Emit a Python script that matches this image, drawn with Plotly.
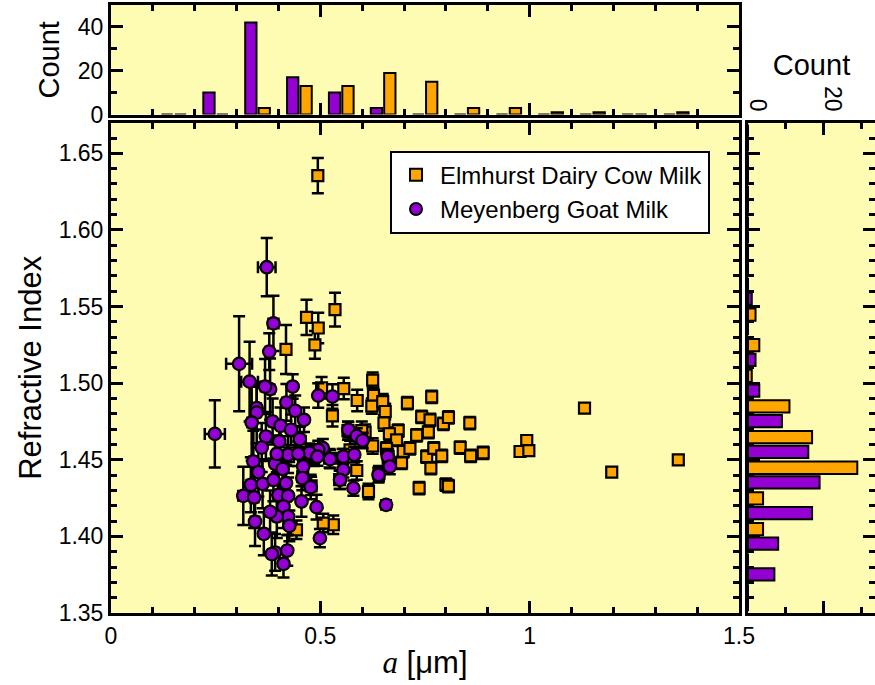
import plotly.graph_objects as go

# ---------------- data ----------------
cow_name = "Elmhurst Dairy Cow Milk"
goat_name = "Meyenberg Goat Milk"

cow_a = [0.494, 0.467, 0.535, 0.495, 0.418, 0.487, 0.503, 0.556, 0.625, 0.627,
         0.623, 0.649, 0.655, 0.652, 0.708, 0.766, 0.742, 0.762, 0.794, 0.806,
         0.857, 0.686, 0.665, 0.758, 0.730, 0.682, 0.607, 0.625, 0.658, 0.698,
         0.714, 0.754, 0.771, 0.790, 0.834, 0.859, 0.889, 0.694, 0.764, 0.736,
         0.800, 0.806, 0.615, 0.588, 0.529, 0.599, 0.587, 0.531, 0.507, 0.571,
         0.993, 0.977, 0.998, 1.131, 1.196, 1.355, 0.443,
         0.452, 0.473, 0.458, 0.478, 0.485, 0.424, 0.553, 0.522, 0.566, 0.546,
         0.662, 0.640]
cow_n = [1.6355, 1.543, 1.548, 1.536, 1.522, 1.525, 1.497, 1.4965, 1.502, 1.492,
         1.485, 1.488, 1.4815, 1.474, 1.487, 1.491, 1.478, 1.476, 1.4735, 1.4776,
         1.474, 1.469, 1.467, 1.468, 1.466, 1.463, 1.468, 1.459, 1.4575, 1.4555,
         1.4575, 1.452, 1.4575, 1.4525, 1.458, 1.4525, 1.4545, 1.448, 1.4445, 1.4315,
         1.4338, 1.4328, 1.4293, 1.4887, 1.4787, 1.469, 1.443, 1.4076, 1.4087, 1.4565,
         1.4626, 1.4554, 1.456, 1.4837, 1.4419, 1.450, 1.4043,
         1.462, 1.454, 1.439, 1.433, 1.452, 1.452, 1.451, 1.451, 1.469, 1.437,
         1.452, 1.441]
cow_err_n = [0.0115, 0.0115, 0.011, 0.010, 0.016, 0.009, 0.007, 0.007, 0.005, 0.005,
             0.005, 0.005, 0.005, 0.005, 0.004, 0.004, 0.004, 0.004, 0.004, 0.004,
             0.004, 0.004, 0.004, 0.004, 0.004, 0.004, 0.005, 0.005, 0.004, 0.004,
             0.004, 0.004, 0.004, 0.004, 0.004, 0.004, 0.004, 0.004, 0.004, 0.004,
             0.004, 0.004, 0.005, 0.007, 0.007, 0.006, 0.006, 0.006, 0.006, 0.006,
             0.003, 0.003, 0.003, 0.003, 0.003, 0.003, 0.006,
             0.006, 0.006, 0.006, 0.006, 0.006, 0.006, 0.006, 0.006, 0.006, 0.006,
             0.005, 0.005]

goat_a = [0.372, 0.388, 0.378, 0.306, 0.331, 0.380, 0.434, 0.419, 0.495, 0.529,
          0.368, 0.348, 0.248, 0.348, 0.336, 0.386, 0.405, 0.461, 0.430, 0.370,
          0.451, 0.506, 0.340, 0.392, 0.423, 0.396, 0.459, 0.523, 0.485, 0.495,
          0.474, 0.567, 0.587, 0.601, 0.555, 0.581, 0.555, 0.547, 0.579, 0.491,
          0.499, 0.457, 0.477, 0.334, 0.362, 0.316, 0.342, 0.388, 0.418, 0.400,
          0.423, 0.455, 0.412, 0.423, 0.396, 0.426, 0.344, 0.365, 0.392, 0.421,
          0.412, 0.384, 0.493, 0.661, 0.666, 0.639, 0.657, 0.360, 0.402, 0.440,
          0.380, 0.352, 0.410, 0.447]
goat_n = [1.5757, 1.539, 1.5206, 1.5126, 1.501, 1.4961, 1.4978, 1.4874, 1.4919, 1.4913,
          1.4978, 1.4837, 1.4669, 1.4808, 1.4743, 1.4750, 1.4722, 1.4761, 1.4696, 1.4652,
          1.4635, 1.4576, 1.4489, 1.4474, 1.4533, 1.4539, 1.4456, 1.4504, 1.4533, 1.4565,
          1.4547, 1.4696, 1.4656, 1.4626, 1.4521, 1.4533, 1.4434, 1.4369, 1.4315, 1.4191,
          1.3989, 1.4381, 1.4322, 1.4337, 1.4343, 1.4265, 1.4254, 1.4369, 1.4348, 1.4271,
          1.4265, 1.4228, 1.4195, 1.4130, 1.4130, 1.4069, 1.4097, 1.4017, 1.3895, 1.3908,
          1.3821, 1.3885, 1.4521, 1.4521, 1.4456, 1.4402, 1.4206, 1.458, 1.462, 1.482,
          1.416, 1.442, 1.444, 1.454]
goat_err_n = [0.019, 0.018, 0.012, 0.031, 0.026, 0.020, 0.008, 0.012, 0.008, 0.008,
              0.018, 0.014, 0.022, 0.020, 0.025, 0.015, 0.012, 0.008, 0.010, 0.016,
              0.008, 0.006, 0.020, 0.014, 0.012, 0.012, 0.008, 0.006, 0.006, 0.006,
              0.006, 0.005, 0.005, 0.005, 0.005, 0.005, 0.005, 0.006, 0.005, 0.008,
              0.006, 0.008, 0.008, 0.018, 0.016, 0.019, 0.020, 0.014, 0.012, 0.014,
              0.012, 0.010, 0.014, 0.012, 0.014, 0.010, 0.016, 0.014, 0.012, 0.010,
              0.009, 0.014, 0.006, 0.005, 0.005, 0.005, 0.003, 0.016, 0.012, 0.010,
              0.014, 0.016, 0.012, 0.008]
goat_err_a = [0.021, 0.012, 0.008, 0.031, 0.020, 0.010, 0.006, 0.010, 0.005, 0.005,
              0.010, 0.010, 0.024, 0.008, 0.010, 0.008, 0.008, 0.006, 0.006, 0.008,
              0.006, 0.005, 0.010, 0.008, 0.006, 0.008, 0.006, 0.005, 0.005, 0.005,
              0.005, 0.004, 0.004, 0.004, 0.004, 0.004, 0.004, 0.004, 0.004, 0.005,
              0.005, 0.006, 0.006, 0.010, 0.010, 0.012, 0.010, 0.008, 0.008, 0.008,
              0.008, 0.006, 0.008, 0.008, 0.008, 0.006, 0.010, 0.008, 0.008, 0.006,
              0.006, 0.008, 0.005, 0.004, 0.004, 0.004, 0.003, 0.008, 0.008, 0.006,
              0.008, 0.010, 0.008, 0.006]

# histogram of particle size a (bin centres, counts)
hist_a_bins = [0.15, 0.25, 0.35, 0.45, 0.55, 0.65, 0.75, 0.85, 0.95, 1.05, 1.15, 1.25, 1.35]
hist_a_goat = [0, 10, 42, 17, 10, 3, 0, 0, 0, 0, 0, 0, 0]
hist_a_cow = [0, 0, 3, 13, 13, 19, 15, 3, 3, 1, 1, 0, 1]

# histogram of refractive index n (bin centres, counts)
hist_n_bins = [1.36, 1.38, 1.40, 1.42, 1.44, 1.46, 1.48, 1.50, 1.52, 1.54, 1.56,
               1.58, 1.60, 1.62, 1.64, 1.66]
hist_n_goat = [0, 7, 8, 17, 19, 16, 9, 3, 2, 0, 1, 0, 0, 0, 0, 0]
hist_n_cow = [0, 0, 4, 4, 29, 17, 11, 1, 3, 2, 0, 0, 0, 0, 0, 0]

# ---------------- style ----------------
ORANGE = "#FFA500"
PURPLE = "#9400D3"
BG = "#FEFBB2"
FONT = "Liberation Sans, Arial, sans-serif"
TICK_FONT = dict(family=FONT, size=23, color="black")
TITLE_FONT = dict(family=FONT, size=31, color="black")
COUNT_FONT = dict(family=FONT, size=29, color="black")

W, H = 875, 685
ML, MR, MT, MB = 111, 0, 5, 72
PW, PH = W - ML - MR, H - MT - MB


def px_x(p):
    return (p - ML) / PW


def px_y(p):
    return (H - MB - p) / PH


main_x_dom = [0, px_x(739)]
side_x_dom = [px_x(748), 1]
main_y_dom = [0, px_y(122.7)]
top_y_dom = [px_y(114.5), 1]

fig = go.Figure()

fig.add_trace(go.Scatter(
    x=cow_a, y=cow_n, mode="markers", name=cow_name,
    marker=dict(symbol="square", size=11, color=ORANGE, line=dict(color="black", width=2.2)),
    error_y=dict(type="data", array=cow_err_n, color="black", thickness=2.5, width=6),
    xaxis="x", yaxis="y",
))
fig.add_trace(go.Scatter(
    x=goat_a, y=goat_n, mode="markers", name=goat_name,
    marker=dict(symbol="circle", size=12.5, color=PURPLE, line=dict(color="black", width=2.2)),
    error_y=dict(type="data", array=goat_err_n, color="black", thickness=2.5, width=6),
    error_x=dict(type="data", array=goat_err_a, color="black", thickness=2.5, width=6),
    xaxis="x", yaxis="y",
))

bar_line = dict(color="black", width=2)
# top histogram (size)
fig.add_trace(go.Bar(
    x=hist_a_bins, y=hist_a_goat, width=0.027, offset=-0.0295,
    marker=dict(color=PURPLE, line=bar_line), showlegend=False,
    xaxis="x2", yaxis="y2",
))
fig.add_trace(go.Bar(
    x=hist_a_bins, y=hist_a_cow, width=0.027, offset=0.0025,
    marker=dict(color=ORANGE, line=bar_line), showlegend=False,
    xaxis="x2", yaxis="y2",
))
# right histogram (refractive index)
fig.add_trace(go.Bar(
    y=hist_n_bins, x=hist_n_goat, orientation="h", width=0.008, offset=-0.0088,
    marker=dict(color=PURPLE, line=bar_line), showlegend=False,
    xaxis="x3", yaxis="y3",
))
fig.add_trace(go.Bar(
    y=hist_n_bins, x=hist_n_cow, orientation="h", width=0.008, offset=0.0008,
    marker=dict(color=ORANGE, line=bar_line), showlegend=False,
    xaxis="x3", yaxis="y3",
))

base = dict(showline=True, linewidth=3, linecolor="black", mirror="ticks",
            ticks="inside", ticklen=12, tickwidth=2.5, tickcolor="black",
            showgrid=False, zeroline=False, tickfont=TICK_FONT, automargin=False)
minor_style = dict(ticklen=6, tickwidth=2.5, tickcolor="black", ticks="inside")

fig.update_layout(
    width=W, height=H, autosize=False,
    margin=dict(l=ML, r=MR, t=MT, b=MB, autoexpand=False),
    paper_bgcolor="white", plot_bgcolor=BG,
    barmode="overlay",
    font=dict(family=FONT, color="black"),
    xaxis=dict(base, domain=main_x_dom, anchor="y", range=[0, 1.5], dtick=0.5,
               minor=dict(minor_style, dtick=0.1),
               title=dict(text="<i><span style='font-family:Liberation Serif, Times New Roman, serif'>a</span></i> [μm]",
                          font=TITLE_FONT, standoff=4)),
    yaxis=dict(base, domain=main_y_dom, anchor="x", range=[1.35, 1.67], dtick=0.05, tick0=1.35,
               tickformat=".2f",
               minor=dict(minor_style, dtick=0.01),
               title=dict(text="Refractive Index", font=TITLE_FONT, standoff=8)),
    xaxis2=dict(base, domain=main_x_dom, anchor="y2", range=[0, 1.5], dtick=0.5,
                showticklabels=False,
                minor=dict(minor_style, dtick=0.1)),
    yaxis2=dict(base, domain=top_y_dom, anchor="x2", range=[0, 50], dtick=20,
                minor=dict(minor_style, dtick=10),
                title=dict(text="Count", font=COUNT_FONT, standoff=10)),
    xaxis3=dict(base, domain=side_x_dom, anchor="y3", side="top", range=[0, 33.7], dtick=20,
                tickangle=90, ticklabelshift=9,
                minor=dict(minor_style, dtick=10),
                title=dict(text="Count", font=COUNT_FONT, standoff=2)),
    yaxis3=dict(base, domain=main_y_dom, anchor="x3", range=[1.35, 1.67], dtick=0.05, tick0=1.35,
                showticklabels=False,
                minor=dict(minor_style, dtick=0.01)),
    legend=dict(x=px_x(390), y=px_y(150.7), xanchor="left", yanchor="top",
                bgcolor="white", bordercolor="black", borderwidth=2,
                font=dict(family=FONT, size=24, color="black"),
                itemwidth=38, itemsizing="constant", tracegroupgap=0),
)

fig.write_html("out.html", config={"responsive": False})
